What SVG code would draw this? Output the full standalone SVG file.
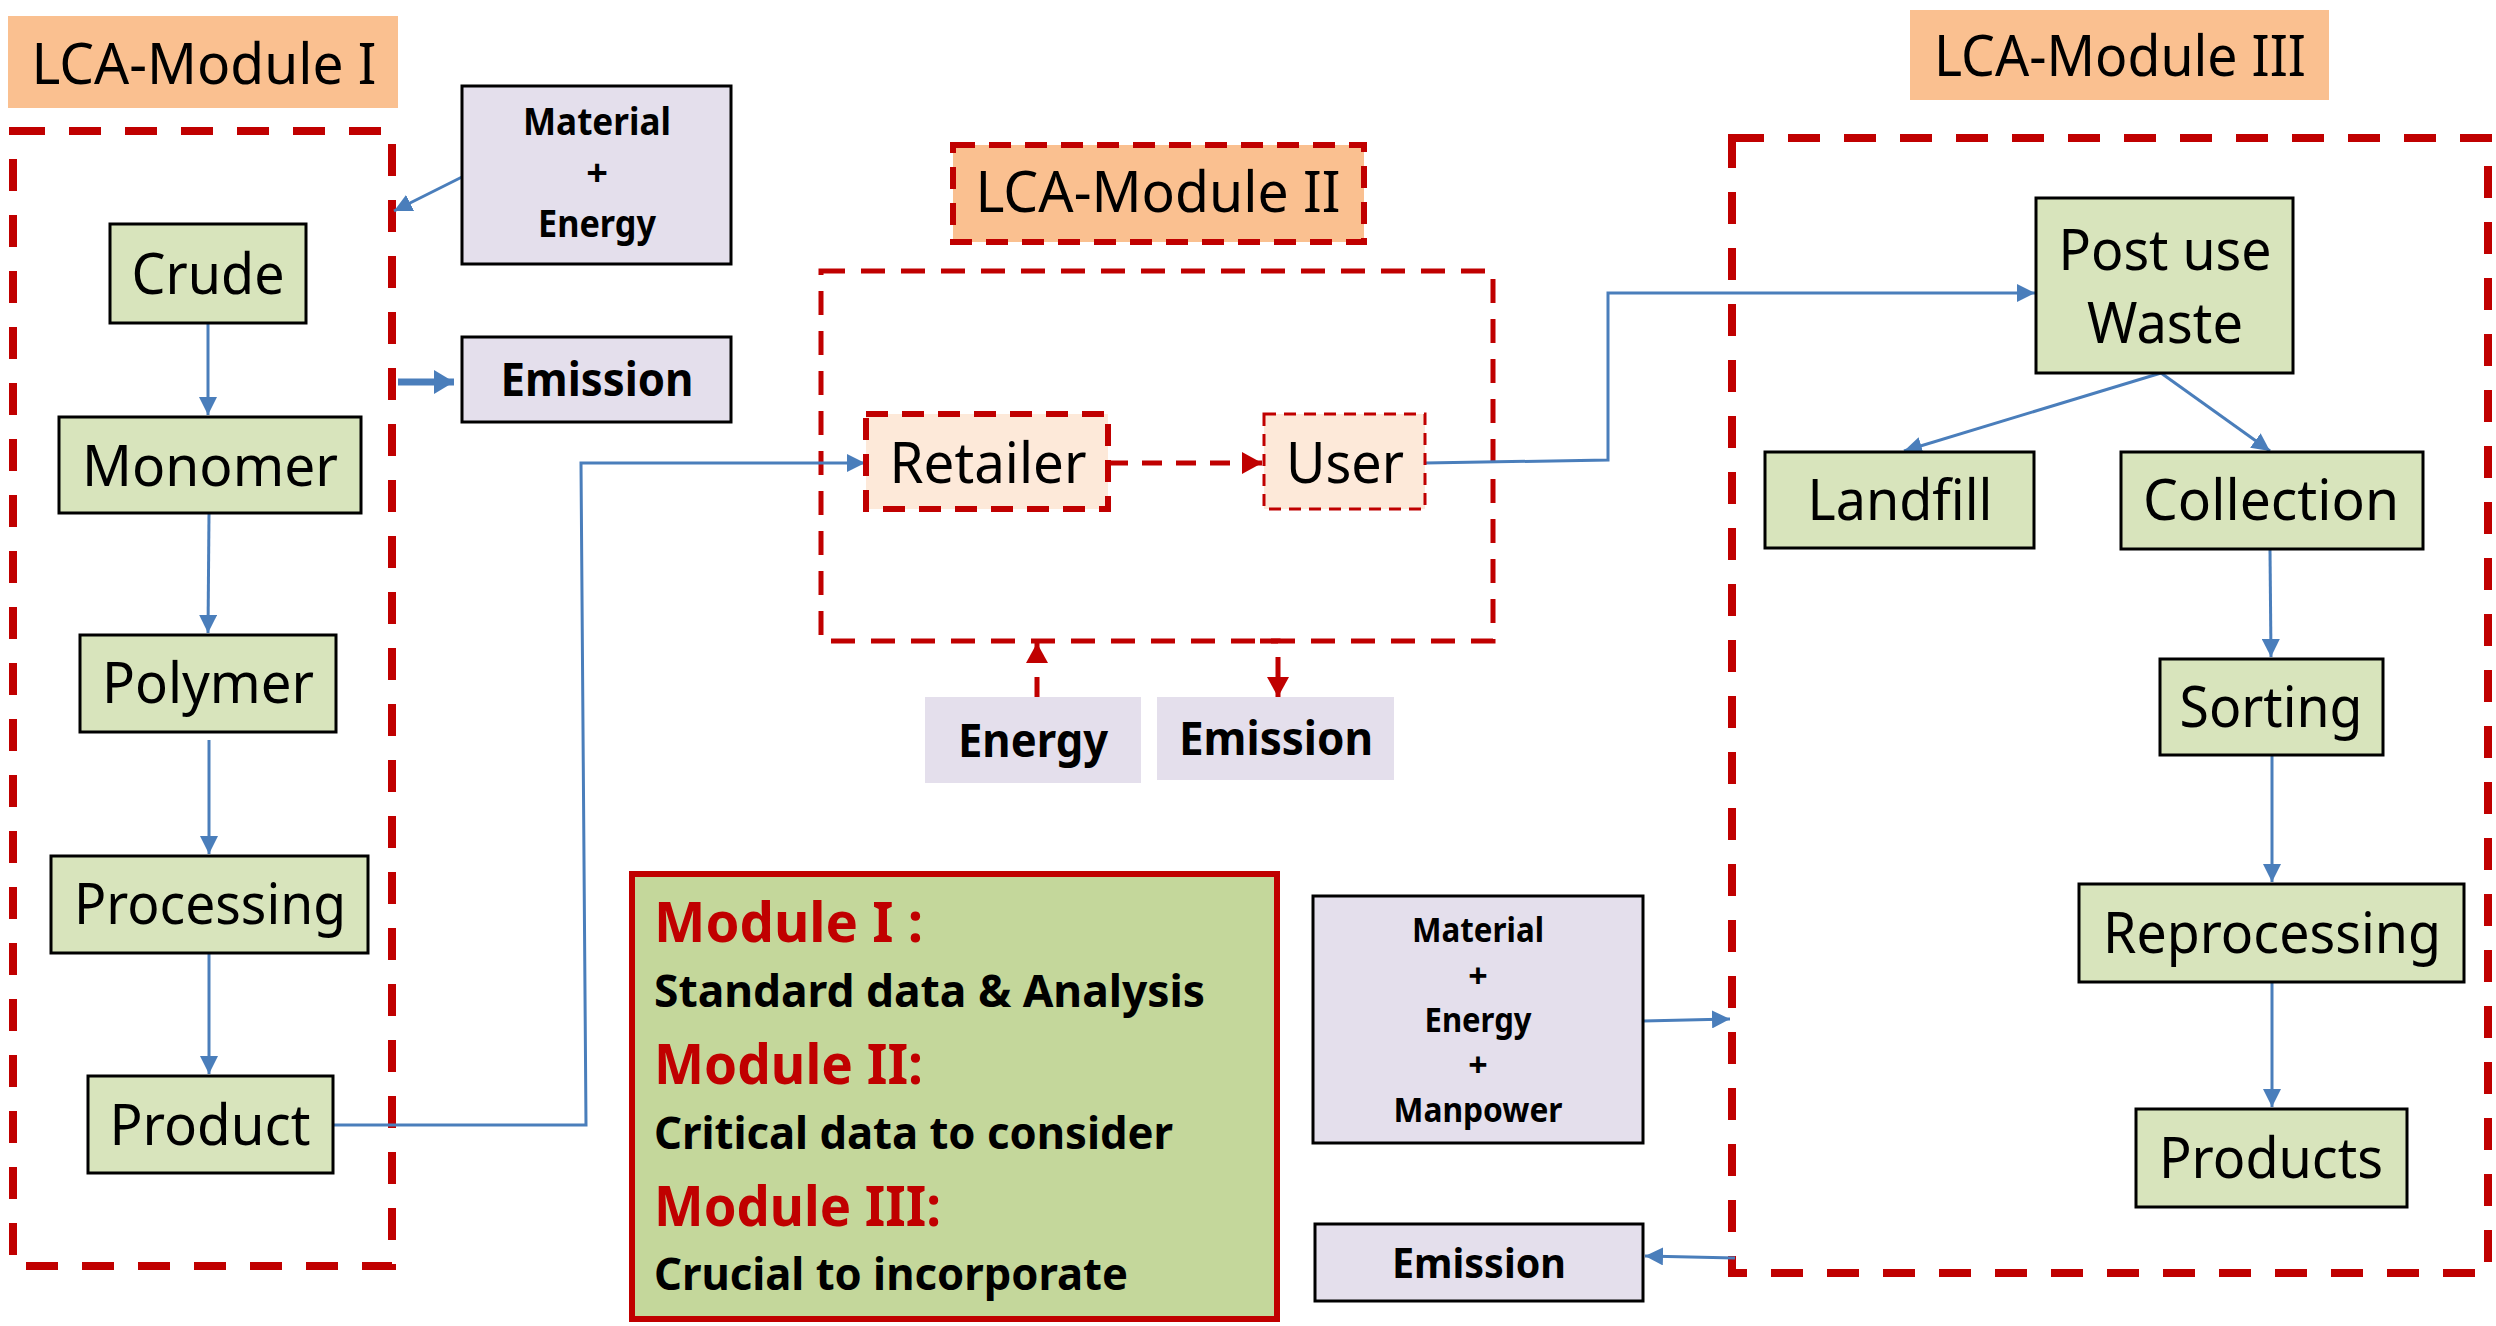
<svg xmlns="http://www.w3.org/2000/svg" width="2496" height="1326" viewBox="0 0 2496 1326">
<style>
.bg{fill:#ffffff}
.lbl{fill:#FAC090}
.node{fill:#D8E4BC;stroke:#000;stroke-width:3}
.inp{fill:#E4DFEC;stroke:#000;stroke-width:3}
.inpn{fill:#E4DFEC}
.mod{fill:none;stroke:#C00000;stroke-width:8;stroke-dasharray:32 24}
.mod2{fill:none;stroke:#C00000;stroke-width:5;stroke-dasharray:24 16}
.t{font-family:"Noto Sans","Open Sans",sans-serif;font-size:56px;fill:#000;text-anchor:middle}
.tb{font-family:"Noto Sans","Open Sans",sans-serif;font-weight:bold;fill:#000;text-anchor:middle}
.lg{font-family:"Noto Sans","Open Sans",sans-serif;font-weight:bold;fill:#000}
.lr{font-family:"Noto Sans","Open Sans",sans-serif;font-weight:bold;fill:#C00000;font-size:56px}
.c{fill:none;stroke:#4A7EBB;stroke-width:3}
.cr{fill:none;stroke:#C00000;stroke-width:5;stroke-dasharray:20 14}
</style>
<defs>
<marker id="ab" markerUnits="userSpaceOnUse" markerWidth="20" markerHeight="18" refX="18" refY="9" orient="auto"><path d="M0,0 L18,9 L0,18 Z" fill="#4A7EBB"/></marker>
<marker id="abig" markerUnits="userSpaceOnUse" markerWidth="22" markerHeight="24" refX="20" refY="12" orient="auto"><path d="M0,0 L20,12 L0,24 Z" fill="#4A7EBB"/></marker>
<marker id="ar" markerUnits="userSpaceOnUse" markerWidth="22" markerHeight="22" refX="20" refY="11" orient="auto"><path d="M0,0 L20,11 L0,22 Z" fill="#C00000"/></marker>
</defs>
<rect class="bg" x="0" y="0" width="2496" height="1326"/>

<!-- Module frames and labels -->
<g id="module1-label"><rect class="lbl" x="8" y="16" width="390" height="92"/><text class="t" x="204" y="84" font-size="58" textLength="345" lengthAdjust="spacingAndGlyphs">LCA-Module I</text></g>
<g id="module1-frame"><rect class="mod" x="13" y="131" width="379" height="1135"/></g>
<g id="module2-label"><rect class="lbl" x="953" y="145" width="411" height="97" stroke="#C00000" stroke-width="6" stroke-dasharray="22 14"/><text class="t" x="1158" y="212" font-size="58" textLength="365" lengthAdjust="spacingAndGlyphs">LCA-Module II</text></g>
<g id="module2-frame"><rect class="mod2" x="821" y="271" width="672" height="370"/></g>
<g id="module3-label"><rect class="lbl" x="1910" y="10" width="419" height="90"/><text class="t" x="2120" y="76" font-size="58" textLength="372" lengthAdjust="spacingAndGlyphs">LCA-Module III</text></g>
<g id="module3-frame"><rect class="mod" x="1732" y="138" width="756" height="1135"/></g>

<!-- Connectors -->
<g id="connectors">
<line class="c" x1="208" y1="323" x2="208" y2="415" marker-end="url(#ab)"/>
<line class="c" x1="209" y1="513" x2="208" y2="633" marker-end="url(#ab)"/>
<line class="c" x1="209" y1="740" x2="209" y2="854" marker-end="url(#ab)"/>
<line class="c" x1="209" y1="953" x2="209" y2="1074" marker-end="url(#ab)"/>
<line class="c" x1="462" y1="177" x2="394" y2="211" marker-end="url(#ab)"/>
<line x1="398" y1="382" x2="454" y2="382" stroke="#4A7EBB" stroke-width="7" marker-end="url(#abig)"/>
<polyline class="c" points="333,1125 586,1125 581,463 865,463" marker-end="url(#ab)"/>
<line class="cr" x1="1108" y1="463" x2="1262" y2="463" marker-end="url(#ar)"/>
<polyline class="c" points="1425,463 1608,460 1608,293 2035,293" marker-end="url(#ab)"/>
<line class="cr" x1="1037" y1="697" x2="1037" y2="643" marker-end="url(#ar)"/>
<polyline class="cr" points="1260,641 1278,641 1278,697" marker-end="url(#ar)"/>
<line class="c" x1="2161" y1="373" x2="1904" y2="451" marker-end="url(#ab)"/>
<line class="c" x1="2161" y1="373" x2="2270" y2="451" marker-end="url(#ab)"/>
<line class="c" x1="2270" y1="550" x2="2271" y2="657" marker-end="url(#ab)"/>
<line class="c" x1="2272" y1="755" x2="2272" y2="882" marker-end="url(#ab)"/>
<line class="c" x1="2272" y1="982" x2="2272" y2="1107" marker-end="url(#ab)"/>
<line class="c" x1="1643" y1="1021" x2="1730" y2="1019" marker-end="url(#ab)"/>
<line class="c" x1="1735" y1="1258" x2="1645" y2="1256" marker-end="url(#ab)"/>
</g>

<!-- Module I nodes -->
<g id="crude"><rect class="node" x="110" y="224" width="196" height="99"/><text class="t" x="208" y="294" textLength="153" lengthAdjust="spacingAndGlyphs">Crude</text></g>
<g id="monomer"><rect class="node" x="59" y="417" width="302" height="96"/><text class="t" x="210" y="486" textLength="256" lengthAdjust="spacingAndGlyphs">Monomer</text></g>
<g id="polymer"><rect class="node" x="80" y="635" width="256" height="97"/><text class="t" x="208" y="703" textLength="212" lengthAdjust="spacingAndGlyphs">Polymer</text></g>
<g id="processing"><rect class="node" x="51" y="856" width="317" height="97"/><text class="t" x="210" y="924" textLength="272" lengthAdjust="spacingAndGlyphs">Processing</text></g>
<g id="product"><rect class="node" x="88" y="1076" width="245" height="97"/><text class="t" x="210" y="1145" textLength="201" lengthAdjust="spacingAndGlyphs">Product</text></g>

<g id="material-energy-1"><rect class="inp" x="462" y="86" width="269" height="178"/>
<text class="tb" x="597" y="135" font-size="38" textLength="148" lengthAdjust="spacingAndGlyphs">Material</text>
<text class="tb" x="597" y="186" font-size="38">+</text>
<text class="tb" x="597" y="237" font-size="38" textLength="118" lengthAdjust="spacingAndGlyphs">Energy</text></g>
<g id="emission-1"><rect class="inp" x="462" y="337" width="269" height="85"/><text class="tb" x="597" y="396" font-size="46" textLength="193" lengthAdjust="spacingAndGlyphs">Emission</text></g>

<!-- Module II nodes -->
<g id="retailer"><rect x="866" y="414" width="242" height="95" fill="#FDE9D9" stroke="#C00000" stroke-width="6" stroke-dasharray="22 14"/><text class="t" x="988" y="483" textLength="197" lengthAdjust="spacingAndGlyphs">Retailer</text></g>
<g id="user"><rect x="1264" y="414" width="161" height="95" fill="#FDE9D9" stroke="#C00000" stroke-width="3" stroke-dasharray="12 8"/><text class="t" x="1345" y="483" textLength="118" lengthAdjust="spacingAndGlyphs">User</text></g>
<g id="energy-2"><rect class="inpn" x="925" y="697" width="216" height="86"/><text class="tb" x="1033" y="757" font-size="46" textLength="150" lengthAdjust="spacingAndGlyphs">Energy</text></g>
<g id="emission-2"><rect class="inpn" x="1157" y="697" width="237" height="83"/><text class="tb" x="1276" y="755" font-size="46" textLength="194" lengthAdjust="spacingAndGlyphs">Emission</text></g>

<!-- Legend -->
<g id="legend"><rect x="632" y="874" width="645" height="445" fill="#C4D79B" stroke="#C00000" stroke-width="6"/>
<text class="lr" x="654" y="942" textLength="269" lengthAdjust="spacingAndGlyphs">Module I :</text>
<text class="lg" x="654" y="1007" font-size="44" textLength="551" lengthAdjust="spacingAndGlyphs">Standard data &amp; Analysis</text>
<text class="lr" x="654" y="1084" textLength="269" lengthAdjust="spacingAndGlyphs">Module II:</text>
<text class="lg" x="654" y="1149" font-size="44" textLength="519" lengthAdjust="spacingAndGlyphs">Critical data to consider</text>
<text class="lr" x="654" y="1226" textLength="287" lengthAdjust="spacingAndGlyphs">Module III:</text>
<text class="lg" x="654" y="1290" font-size="44" textLength="474" lengthAdjust="spacingAndGlyphs">Crucial to incorporate</text></g>

<g id="material-energy-manpower"><rect class="inp" x="1313" y="896" width="330" height="247"/>
<text class="tb" x="1478" y="942" font-size="34" textLength="132" lengthAdjust="spacingAndGlyphs">Material</text>
<text class="tb" x="1478" y="988" font-size="34">+</text>
<text class="tb" x="1478" y="1032" font-size="34" textLength="107" lengthAdjust="spacingAndGlyphs">Energy</text>
<text class="tb" x="1478" y="1077" font-size="34">+</text>
<text class="tb" x="1478" y="1122" font-size="34" textLength="169" lengthAdjust="spacingAndGlyphs">Manpower</text></g>
<g id="emission-3"><rect class="inp" x="1315" y="1224" width="328" height="77"/><text class="tb" x="1479" y="1278" font-size="42" textLength="174" lengthAdjust="spacingAndGlyphs">Emission</text></g>

<!-- Module III nodes -->
<g id="post-use-waste"><rect class="node" x="2036" y="198" width="257" height="175"/>
<text class="t" x="2165" y="270" textLength="213" lengthAdjust="spacingAndGlyphs">Post use</text>
<text class="t" x="2165" y="343" textLength="156" lengthAdjust="spacingAndGlyphs">Waste</text></g>
<g id="landfill"><rect class="node" x="1765" y="452" width="269" height="96"/><text class="t" x="1900" y="520" textLength="185" lengthAdjust="spacingAndGlyphs">Landfill</text></g>
<g id="collection"><rect class="node" x="2121" y="452" width="302" height="97"/><text class="t" x="2271" y="520" textLength="256" lengthAdjust="spacingAndGlyphs">Collection</text></g>
<g id="sorting"><rect class="node" x="2160" y="659" width="223" height="96"/><text class="t" x="2271" y="727" textLength="183" lengthAdjust="spacingAndGlyphs">Sorting</text></g>
<g id="reprocessing"><rect class="node" x="2079" y="884" width="385" height="98"/><text class="t" x="2272" y="953" textLength="338" lengthAdjust="spacingAndGlyphs">Reprocessing</text></g>
<g id="products"><rect class="node" x="2136" y="1109" width="271" height="98"/><text class="t" x="2271" y="1178" textLength="224" lengthAdjust="spacingAndGlyphs">Products</text></g>
</svg>
